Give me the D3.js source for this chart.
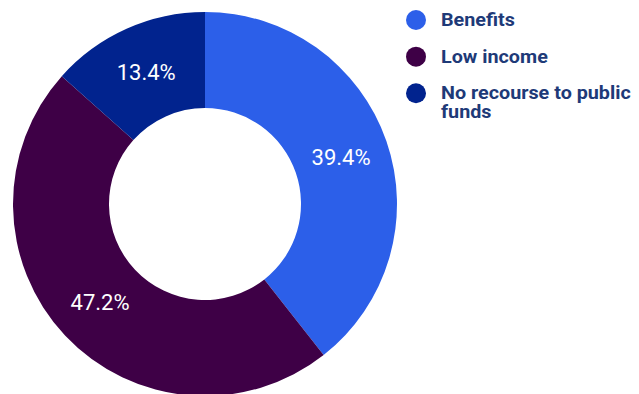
<!DOCTYPE html>
<html>
<head>
<meta charset="utf-8">
<script src="https://cdn.jsdelivr.net/npm/d3@7"></script>
<style>
  html, body { margin: 0; padding: 0; background: #ffffff; }
  svg { display: block; }
</style>
</head>
<body>
<svg id="chart" width="639" height="394"></svg>
<script>
// Share of households by reason
const categories = ["Benefits", "Low income", "No recourse to public funds"];
const values = [39.4, 47.2, 13.4];
const colors = ["#2c5fe9", "#3e0046", "#01238e"];
const legendLines = [["Benefits"], ["Low income"], ["No recourse to public", "funds"]];

const svg = d3.select("#chart");

const cx = 205, cy = 204;
const outerR = 192, innerR = 96;

const data = categories.map((c, i) => ({ name: c, value: values[i], color: colors[i] }));

const pie = d3.pie()
  .sort(null)
  .value(d => d.value);

const arc = d3.arc()
  .innerRadius(innerR)
  .outerRadius(outerR);

const g = svg.append("g").attr("transform", `translate(${cx},${cy})`);

const arcs = pie(data);

g.selectAll("path.slice")
  .data(arcs)
  .join("path")
  .attr("class", "slice")
  .attr("d", arc)
  .attr("fill", d => d.data.color);

g.selectAll("text.pct")
  .data(arcs)
  .join("text")
  .attr("class", "pct")
  .attr("transform", d => `translate(${arc.centroid(d)})`)
  .attr("text-anchor", "middle")
  .attr("dy", "0.36em")
  .attr("fill", "#ffffff")
  .style("font-family", "Roboto, sans-serif")
  .style("font-size", "22px")
  .text(d => d3.format(".1f")(d.data.value) + "%");

// Legend
const legend = svg.append("g").attr("transform", "translate(416,0)");
const legendY = d3.scalePoint()
  .domain(categories)
  .range([20, 93.3]);

const items = legend.selectAll("g.item")
  .data(data)
  .join("g")
  .attr("class", "item")
  .attr("transform", d => `translate(0,${legendY(d.name)})`);

items.append("circle")
  .attr("r", 10)
  .attr("fill", d => d.color);

items.append("text")
  .attr("transform", "translate(25,6) scale(1.13,1)")
  .attr("fill", "#1e3a78")
  .style("font-family", "Roboto, sans-serif")
  .style("font-weight", "700")
  .style("font-size", "17.5px")
  .selectAll("tspan")
  .data((d, i) => legendLines[i])
  .join("tspan")
  .attr("x", 0)
  .attr("dy", (d, i) => i === 0 ? 0 : 19)
  .text(d => d);
</script>
</body>
</html>
